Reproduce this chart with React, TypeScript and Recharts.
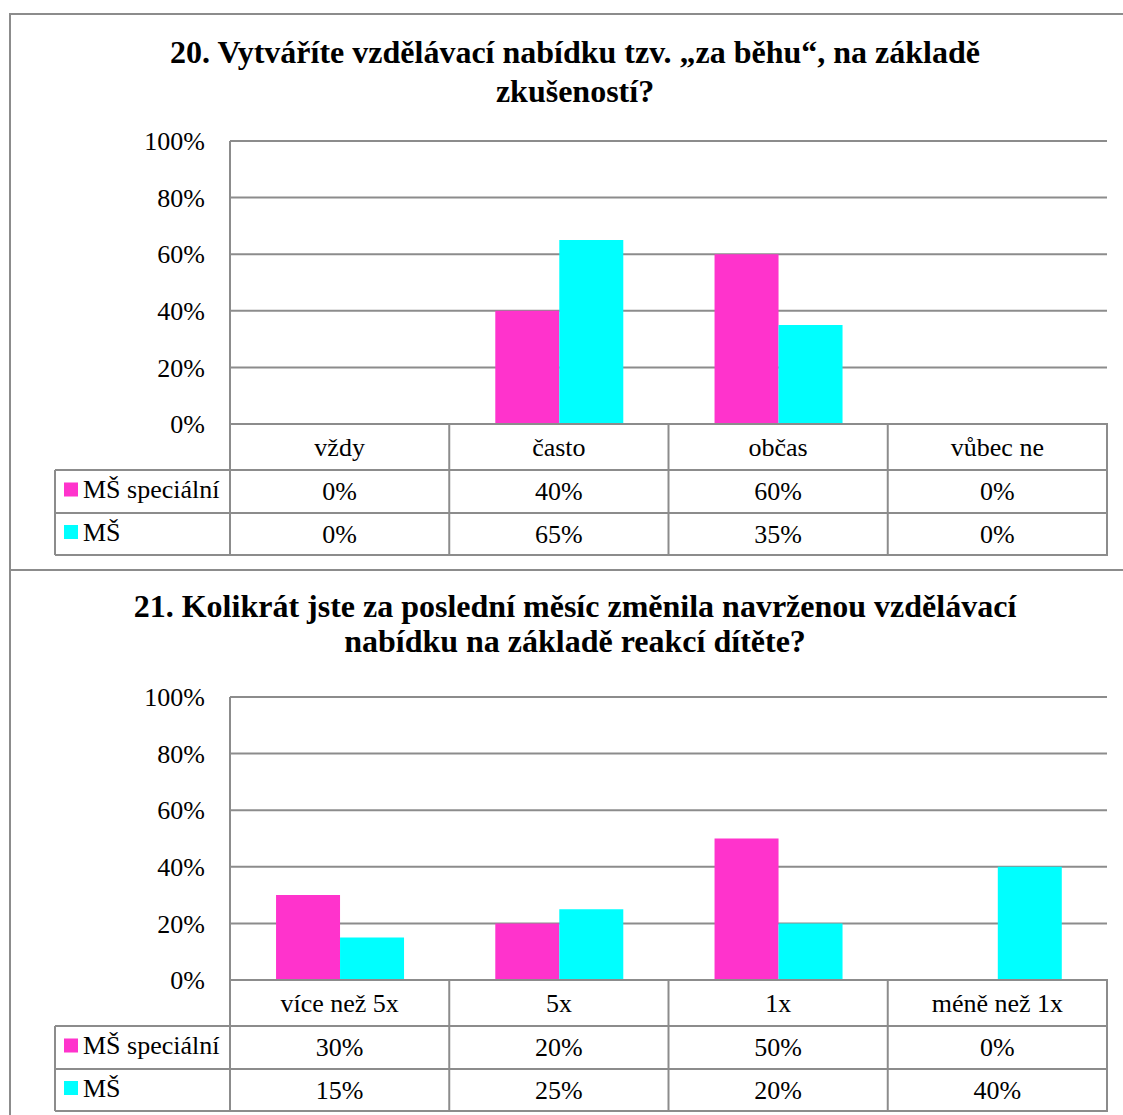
import React from 'react';
import { BarChart, Bar, XAxis, YAxis, CartesianGrid } from 'recharts';

const SERIES_NAMES = ['MŠ speciální', 'MŠ'];
const SERIES_COLORS = ['#FF33CC', '#00FFFF'];
const Y_TICKS = [0, 20, 40, 60, 80, 100];

const CATS_20 = ['vždy', 'často', 'občas', 'vůbec ne'];
const SPEC_20 = [0, 40, 60, 0];
const MS_20 = [0, 65, 35, 0];
const TITLE_20 = ['20. Vytváříte vzdělávací nabídku tzv. „za běhu“, na základě', 'zkušeností?'];

const CATS_21 = ['více než 5x', '5x', '1x', 'méně než 1x'];
const SPEC_21 = [30, 20, 50, 0];
const MS_21 = [15, 25, 20, 40];
const TITLE_21 = ['21. Kolikrát jste za poslední měsíc změnila navrženou vzdělávací', 'nabídku na základě reakcí dítěte?'];

const FONT = '"Liberation Serif", "Times New Roman", serif';
const LINE = '#8c8c8c';

// layout (panel-relative)
const PLOT_LEFT = 230;
const PLOT_RIGHT = 1107;
const PLOT_TOP = 128;
const PLOT_H = 283;
const LEGEND_LEFT = 55;
const ROWS = [46, 43, 42];

interface PanelProps {
  top: number;
  title: string[];
  titleY: number[];
  cats: string[];
  spec: number[];
  ms: number[];
}

const Panel: React.FC<PanelProps> = ({ top, title, titleY, cats, spec, ms }) => {
  const data = cats.map((c, i) => ({ name: c, spec: spec[i], ms: ms[i] }));
  const chartH = 560;
  const plotBottom = PLOT_TOP + PLOT_H;
  const colW = (PLOT_RIGHT - PLOT_LEFT) / cats.length;
  const r0 = plotBottom;
  const r1 = r0 + ROWS[0];
  const r2 = r1 + ROWS[1];
  const r3 = r2 + ROWS[2];
  const rowMid = [(r1 + r2) / 2, (r2 + r3) / 2];
  const values = [spec, ms];

  return (
    <div style={{ position: 'absolute', left: 0, top, width: 1123, height: chartH }}>
      <div style={{ position: 'absolute', left: 9, top: 0, width: 1140, height: 1200, border: `2px solid ${LINE}`, boxSizing: 'border-box' }} />
      {title.map((t, i) => (
        <div key={i} style={{ position: 'absolute', left: 0, width: 1150, top: titleY[i] - 20, height: 40, lineHeight: '40px', textAlign: 'center', fontFamily: FONT, fontWeight: 'bold', fontSize: 32, color: '#000', whiteSpace: 'nowrap' }}>
          {t}
        </div>
      ))}
      <div style={{ position: 'absolute', left: 0, top: 0 }}>
        <BarChart
          width={1123}
          height={chartH}
          data={data}
          margin={{ top: PLOT_TOP, right: 1123 - PLOT_RIGHT, bottom: chartH - plotBottom, left: PLOT_LEFT - 80 }}
          barGap={0}
          barCategoryGap="21%"
        >
          <CartesianGrid vertical={false} stroke={LINE} strokeWidth={2} />
          <XAxis dataKey="name" hide />
          <YAxis
            width={80}
            domain={[0, 100]}
            ticks={Y_TICKS}
            tickFormatter={(v: number) => `${v}%`}
            tickLine={false}
            tickSize={0}
            tickMargin={25}
            axisLine={{ stroke: LINE, strokeWidth: 2 }}
            tick={{ fill: '#000', fontSize: 26, fontFamily: FONT }}
            interval={0}
          />
          <Bar dataKey="spec" name={SERIES_NAMES[0]} fill={SERIES_COLORS[0]} isAnimationActive={false} />
          <Bar dataKey="ms" name={SERIES_NAMES[1]} fill={SERIES_COLORS[1]} isAnimationActive={false} />
        </BarChart>
      </div>
      <svg style={{ position: 'absolute', left: 0, top: 0 }} width={1123} height={chartH} fontFamily={FONT} fontSize={26}>
        <g stroke={LINE} strokeWidth={2}>
          <line x1={PLOT_LEFT} x2={PLOT_RIGHT + 1} y1={r0} y2={r0} />
          {[r1, r2, r3].map((y, i) => (
            <line key={i} x1={LEGEND_LEFT} x2={PLOT_RIGHT + 1} y1={y} y2={y} />
          ))}
          <line x1={LEGEND_LEFT} x2={LEGEND_LEFT} y1={r1} y2={r3} />
          {cats.map((_, i) => (
            <line key={i} x1={PLOT_LEFT + i * colW} x2={PLOT_LEFT + i * colW} y1={r0} y2={r3} />
          ))}
          <line x1={PLOT_RIGHT} x2={PLOT_RIGHT} y1={r0} y2={r3} />
        </g>
        {cats.map((c, i) => (
          <text key={c} x={PLOT_LEFT + (i + 0.5) * colW} y={(r0 + r1) / 2} textAnchor="middle" dominantBaseline="central" fill="#000">
            {c}
          </text>
        ))}
        {SERIES_NAMES.map((s, k) => (
          <g key={s}>
            <rect x={64} y={rowMid[k] - 9} width={14} height={14} fill={SERIES_COLORS[k]} />
            <text x={83} y={rowMid[k] - 2} dominantBaseline="central" fill="#000">{s}</text>
            {values[k].map((v, i) => (
              <text key={i} x={PLOT_LEFT + (i + 0.5) * colW} y={rowMid[k]} textAnchor="middle" dominantBaseline="central" fill="#000">
                {`${v}%`}
              </text>
            ))}
          </g>
        ))}
      </svg>
    </div>
  );
};

export default function App() {
  return (
    <div style={{ position: 'absolute', left: 0, top: 0, width: 1123, height: 1115, overflow: 'hidden', background: '#fff' }}>
      <Panel top={13} title={TITLE_20} titleY={[39, 78]} cats={CATS_20} spec={SPEC_20} ms={MS_20} />
      <Panel top={569} title={TITLE_21} titleY={[37, 72]} cats={CATS_21} spec={SPEC_21} ms={MS_21} />
    </div>
  );
}
